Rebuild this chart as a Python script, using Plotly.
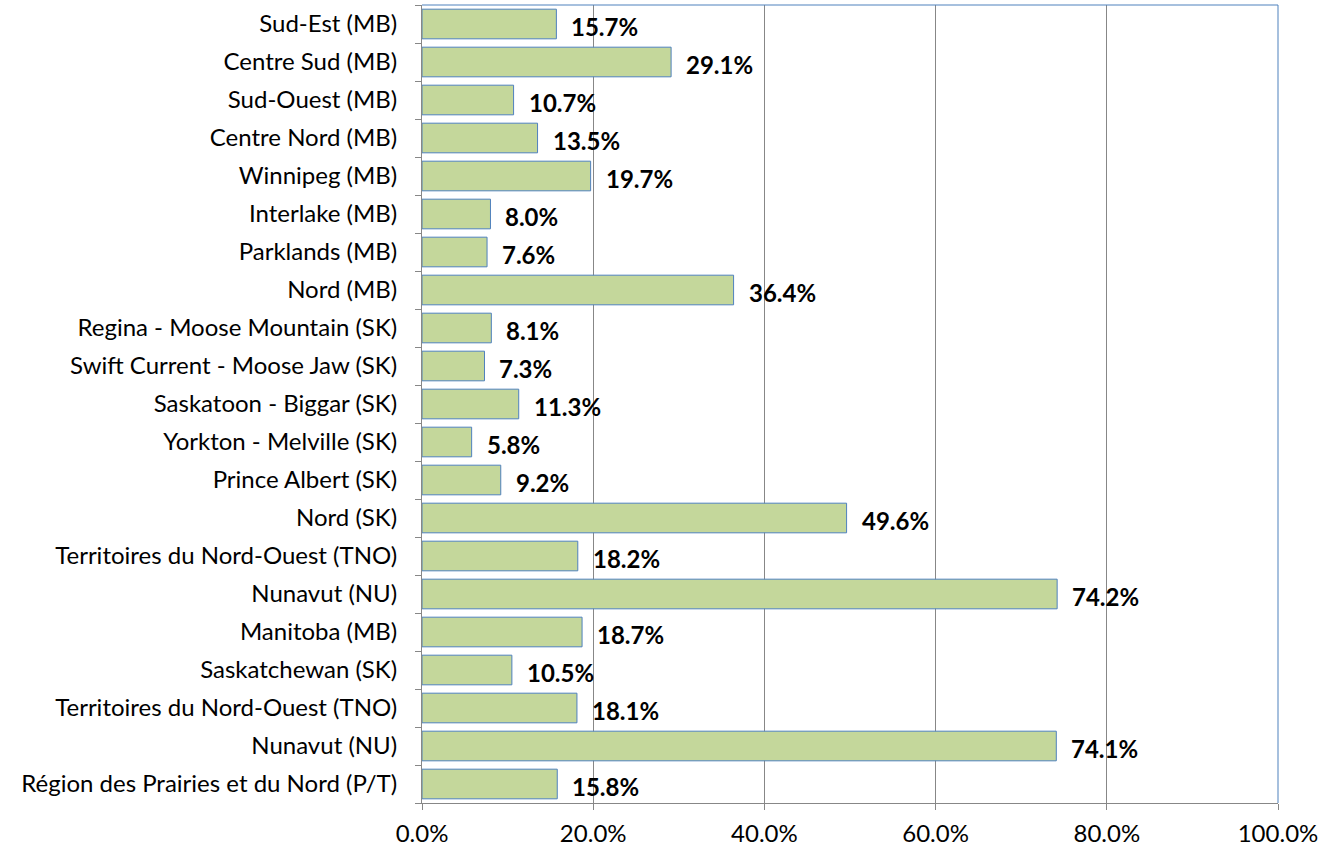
import plotly.graph_objects as go

categories = [
    "Sud-Est (MB)", "Centre Sud (MB)", "Sud-Ouest (MB)", "Centre Nord (MB)",
    "Winnipeg (MB)", "Interlake (MB)", "Parklands (MB)", "Nord (MB)",
    "Regina - Moose Mountain (SK)", "Swift Current - Moose Jaw (SK)",
    "Saskatoon - Biggar (SK)", "Yorkton - Melville (SK)", "Prince Albert (SK)",
    "Nord (SK)", "Territoires du Nord-Ouest (TNO)", "Nunavut (NU)",
    "Manitoba (MB)", "Saskatchewan (SK)", "Territoires du Nord-Ouest (TNO)",
    "Nunavut (NU)", "Région des Prairies et du Nord (P/T)",
]
values = [15.7, 29.1, 10.7, 13.5, 19.7, 8.0, 7.6, 36.4, 8.1, 7.3, 11.3, 5.8,
          9.2, 49.6, 18.2, 74.2, 18.7, 10.5, 18.1, 74.1, 15.8]
x_ticks = [0, 20, 40, 60, 80, 100]

positions = list(range(len(categories)))

FONT = "Lato, Carlito, Calibri, sans-serif"

fig = go.Figure()
fig.add_trace(go.Bar(
    x=values, y=positions, orientation="h",
    marker=dict(color="#c4d79b", line=dict(color="#4f81bd", width=1)),
    width=0.78, hoverinfo="skip",
))

for p, v in zip(positions, values):
    fig.add_annotation(
        x=v, y=p, text=f"<b>{v:.1f}%</b>", showarrow=False,
        xanchor="left", yanchor="middle", xshift=13, yshift=-2,
        font=dict(family=FONT, size=24, color="#000000"),
    )

fig.update_layout(
    width=1323, height=850,
    margin=dict(l=422, r=45, t=5, b=47, autoexpand=False),
    plot_bgcolor="white", paper_bgcolor="white",
    showlegend=False,
    font=dict(family=FONT, size=24, color="#000000"),
    xaxis=dict(
        range=[0, 100], tickvals=x_ticks,
        ticktext=[f"{t:.1f}%" for t in x_ticks],
        showgrid=True, gridcolor="#878787", gridwidth=1,
        showline=True, linecolor="#878787", linewidth=1,
        ticks="outside", ticklen=6, tickcolor="#878787",
        ticklabelstandoff=3,
        zeroline=False, fixedrange=True, automargin=False,
        tickfont=dict(family=FONT, size=24, color="#000000"),
    ),
    yaxis=dict(
        range=[len(categories) - 0.5, -0.5],
        tickvals=positions, ticktext=categories,
        ticks="", showgrid=False, zeroline=False,
        showline=True, linecolor="#878787", linewidth=1,
        ticklabelstandoff=19, automargin=False, fixedrange=True,
        minor=dict(tick0=0.5, dtick=1, ticks="outside", ticklen=6,
                   tickcolor="#878787", showgrid=False),
        tickfont=dict(family=FONT, size=24, color="#000000"),
    ),
    shapes=[
        dict(type="line", xref="paper", yref="paper", x0=0, x1=1, y0=1, y1=1,
             line=dict(color="#4f81bd", width=1)),
        dict(type="line", xref="paper", yref="paper", x0=1, x1=1, y0=0, y1=1,
             line=dict(color="#4f81bd", width=1)),
    ],
)

fig.write_html(
    "out.html",
    config={"displayModeBar": False},
    post_script="document.body.style.margin='0';document.body.style.padding='0';",
)
